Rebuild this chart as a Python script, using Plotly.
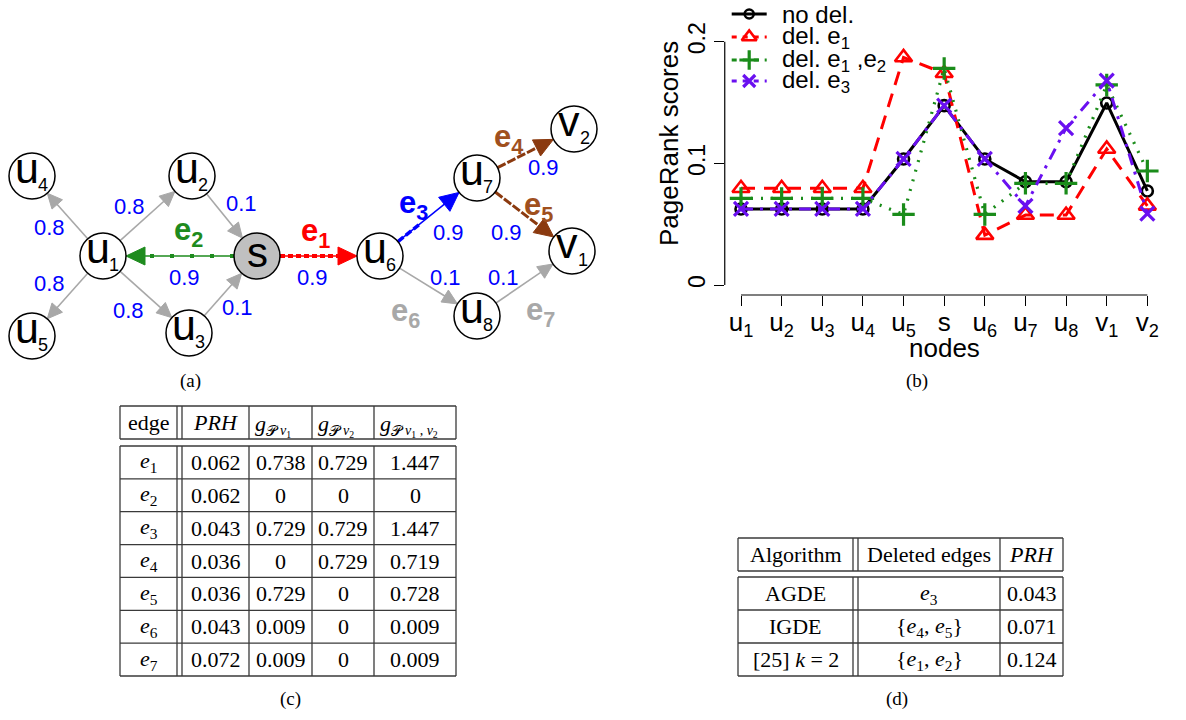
import numpy as np
import plotly.graph_objects as go

# ---------------- data: PageRank chart (b) ----------------
node_names = ["u1", "u2", "u3", "u4", "u5", "s", "u6", "u7", "u8", "v1", "v2"]
node_ticks = ["u<sub>1</sub>", "u<sub>2</sub>", "u<sub>3</sub>", "u<sub>4</sub>", "u<sub>5</sub>", "s",
              "u<sub>6</sub>", "u<sub>7</sub>", "u<sub>8</sub>", "v<sub>1</sub>", "v<sub>2</sub>"]
pr_no_del = [0.0625, 0.0625, 0.0625, 0.0625, 0.1036, 0.1474, 0.1036, 0.0849, 0.0849, 0.1496, 0.0773]
pr_del_e1 = [0.0795, 0.0795, 0.0795, 0.0795, 0.187, 0.174, 0.041, 0.0575, 0.0575, 0.1118, 0.065]
pr_del_e1e2 = [0.0712, 0.0712, 0.0712, 0.0712, 0.058, 0.178, 0.058, 0.0836, 0.0836, 0.1644, 0.0937]
pr_del_e3 = [0.0625, 0.0625, 0.0625, 0.0625, 0.1036, 0.1474, 0.1036, 0.065, 0.129, 0.168, 0.0586]
series_names = ["no del.", "del. e<sub>1</sub>", "del. e<sub>1</sub> ,e<sub>2</sub>", "del. e<sub>3</sub>"]
y_ticks = [0, 0.1, 0.2]
y_tick_text = ["0", "0.1", "0.2"]

# ---------------- data: graph (a) ----------------
edge_src = ["u1", "u1", "u1", "u1", "u2", "u3", "s", "s", "u6", "u7", "u7", "u6", "u8"]
edge_dst = ["u4", "u2", "u5", "u3", "s", "s", "u1", "u6", "u7", "v2", "v1", "u8", "v1"]
edge_weight = ["0.8", "0.8", "0.8", "0.8", "0.1", "0.1", "0.9", "0.9", "0.9", "0.9", "0.9", "0.1", "0.1"]
edge_name = ["", "", "", "", "", "", "e2", "e1", "e3", "e4", "e5", "e6", "e7"]

# ---------------- data: table (c) ----------------
tc_header = ["edge", "<i>PRH</i>", "<i>g</i><sub>𝒫</sub>", "<i>g</i><sub>𝒫</sub>", "<i>g</i><sub>𝒫</sub>"]
tc_header_sub = ["", "", "<i>v</i><sub>1</sub>", "<i>v</i><sub>2</sub>", "<i>v</i><sub>1</sub><i> , v</i><sub>2</sub>"]
tc_edge = ["<i>e</i><sub>%d</sub>" % i for i in range(1, 8)]
tc_prh = ["0.062", "0.062", "0.043", "0.036", "0.036", "0.043", "0.072"]
tc_g_v1 = ["0.738", "0", "0.729", "0", "0.729", "0.009", "0.009"]
tc_g_v2 = ["0.729", "0", "0.729", "0.729", "0", "0", "0"]
tc_g_v12 = ["1.447", "0", "1.447", "0.719", "0.728", "0.009", "0.009"]

# ---------------- data: table (d) ----------------
td_header = ["Algorithm", "Deleted edges", "<i>PRH</i>"]
td_alg = ["AGDE", "IGDE", "[25] <i>k</i> = 2"]
td_deleted = ["<i>e</i><sub>3</sub>", "{<i>e</i><sub>4</sub>, <i>e</i><sub>5</sub>}",
              "{<i>e</i><sub>1</sub>, <i>e</i><sub>2</sub>}"]
td_prh = ["0.043", "0.071", "0.124"]

# ---------------- layout constants (pixels) ----------------
W, H = 1186, 720
SANS = "Liberation Sans"
SERIF = "Liberation Serif"
node_pos = {"u4": (32, 176), "u1": (103, 256), "u2": (192, 176), "s": (257, 256), "u5": (32, 336),
            "u3": (189, 333), "u6": (380, 256), "u7": (477, 178), "v2": (574, 129), "v1": (572, 251),
            "u8": (477, 316)}
R_NODE = 23
weight_pos = [(49, 227), (129, 206), (49, 283), (128, 310), (241, 203), (237, 307), (184, 277),
              (312, 277), (448, 232), (543, 167), (506, 232), (445, 277), (503, 277)]
name_pos = {"e2": (188, 232), "e1": (315, 233), "e3": (413, 205), "e4": (508, 139), "e5": (538, 207),
            "e6": (405, 313), "e7": (540, 312)}
edge_style = {
    "": dict(color="#A8A8A8", width=1.6, dash=None, over=None, head=(15, 7), text="#A8A8A8"),
    "e1": dict(color="#FF0000", width=1.5, dash="5px,3px", over=4, head=(19, 9), text="#FF0000"),
    "e2": dict(color="#1E8B1E", width=1.5, dash="4px,16px", over=4, head=(19, 9), text="#1E8B1E"),
    "e3": dict(color="#0000FF", width=1.5, dash="7px,3px", over=3.5, head=(19, 9), text="#0000FF"),
    "e4": dict(color="#8B3A0F", width=3, dash="9px,2px", over=None, head=(19, 9), text="#A0501E"),
    "e5": dict(color="#8B3A0F", width=3, dash="9px,2px", over=None, head=(19, 9), text="#A0501E"),
    "e6": dict(color="#A8A8A8", width=1.6, dash=None, over=None, head=(15, 7), text="#A8A8A8"),
    "e7": dict(color="#A8A8A8", width=1.6, dash=None, over=None, head=(15, 7), text="#A8A8A8"),
}

# chart geometry: value 0 at 285 px, 0.1 per 121.67 px
Y0_PX, PX_PER = 285.0, 1216.7
Y_RANGE = [-0.00822, 0.2035]
y_dom = [1 - (Y0_PX - Y_RANGE[0] * PX_PER) / H, 1 - (Y0_PX - Y_RANGE[1] * PX_PER) / H]

fig = go.Figure()
shapes = []
annotations = []

# ---------------- chart (b) ----------------
chart_styles = [
    dict(color="black", dash="solid", symbol="circle-open", size=11, mlw=2.6, lw=3),
    dict(color="#FF0000", dash="14px,9px", symbol="triangle-up-open", size=15, mlw=2.6, lw=3),
    dict(color="#1A8C1A", dash="2px,8px", symbol="cross-thin", size=16, mlw=3.2, lw=3.2),
    dict(color="#6A10F0", dash="12px,7px,3px,7px", symbol="x-thin", size=14, mlw=3.2, lw=3),
]
series = [pr_no_del, pr_del_e1, pr_del_e1e2, pr_del_e3]
for vals, st, nm in zip(series, chart_styles, series_names):
    fig.add_trace(go.Scatter(
        x=node_ticks, y=vals, mode="lines+markers", name=nm, showlegend=False,
        line=dict(color=st["color"], width=st["lw"], dash=st["dash"]),
        marker=dict(symbol=st["symbol"], size=st["size"], color=st["color"],
                    line=dict(color=st["color"], width=st["mlw"])),
        xaxis="x", yaxis="y", cliponaxis=False))

# axis lines (R style, from first to last tick)
shapes.append(dict(type="line", xref="paper", yref="y", x0=724.75 / W, x1=724.75 / W, y0=0, y1=0.2,
                   line=dict(color="black", width=1.2)))
shapes.append(dict(type="line", xref="x", yref="paper", x0=0, x1=10, y0=y_dom[0], y1=y_dom[0],
                   line=dict(color="black", width=1.2)))

annotations.append(dict(text="PageRank scores", xref="x2", yref="y2", x=669, y=144, textangle=-90,
                        showarrow=False, font=dict(family=SANS, size=26, color="black")))
annotations.append(dict(text="nodes", xref="x2", yref="y2", x=944, y=348, showarrow=False,
                        font=dict(family=SANS, size=26, color="black")))

# legend
leg_y = [14, 37, 60, 81]
for st, nm, ly in zip(chart_styles, series_names, leg_y):
    fig.add_trace(go.Scatter(
        x=[731.7, 766.7], y=[ly, ly], mode="lines", showlegend=False, hoverinfo="skip",
        line=dict(color=st["color"], width=st["lw"], dash="solid" if st["dash"] == "solid" else "5px,6px"),
        xaxis="x2", yaxis="y2"))
    fig.add_trace(go.Scatter(
        x=[749.2], y=[ly], mode="markers", showlegend=False, hoverinfo="skip",
        marker=dict(symbol=st["symbol"], size=st["size"] - 2, color=st["color"],
                    line=dict(color=st["color"], width=st["mlw"])),
        xaxis="x2", yaxis="y2"))
    annotations.append(dict(text=nm, xref="x2", yref="y2", x=780, y=ly, xanchor="left",
                            showarrow=False, font=dict(family=SANS, size=24, color="black")))

# ---------------- graph (a) ----------------
for s, d, wgt, nm, wp in zip(edge_src, edge_dst, edge_weight, edge_name, weight_pos):
    st = edge_style[nm]
    p0 = np.array(node_pos[s], float)
    p1 = np.array(node_pos[d], float)
    u = (p1 - p0) / np.linalg.norm(p1 - p0)
    nrm = np.array([-u[1], u[0]])
    a = p0 + R_NODE * u
    tip = p1 - R_NODE * u
    L, hw = st["head"]
    base = tip - L * u
    shapes.append(dict(type="line", xref="x2", yref="y2", x0=a[0], y0=a[1], x1=base[0] + u[0],
                       y1=base[1] + u[1], line=dict(color=st["color"], width=st["width"],
                                                    dash=st["dash"] if st["over"] is None and st["dash"] else "solid")))
    if st["over"] is not None:
        endp = base if nm != "e3" else a + 0.45 * (base - a)
        shapes.append(dict(type="line", xref="x2", yref="y2", x0=a[0], y0=a[1], x1=endp[0], y1=endp[1],
                           line=dict(color=st["color"], width=st["over"], dash=st["dash"])))
    c1 = base + hw * nrm
    c2 = base - hw * nrm
    shapes.append(dict(type="path", xref="x2", yref="y2",
                       path="M %.2f %.2f L %.2f %.2f L %.2f %.2f Z" % (tip[0], tip[1], c1[0], c1[1], c2[0], c2[1]),
                       fillcolor=st["color"], line=dict(color=st["color"], width=1)))
    annotations.append(dict(text=wgt, xref="x2", yref="y2", x=wp[0], y=wp[1], showarrow=False,
                            font=dict(family=SANS, size=22, color="#0000FF")))
    if nm:
        npos = name_pos[nm]
        annotations.append(dict(text="<b>e<sub>%s</sub></b>" % nm[1:], xref="x2", yref="y2",
                                x=npos[0], y=npos[1], showarrow=False,
                                font=dict(family=SANS, size=31, color=st["text"])))

for nm, (cx, cy) in node_pos.items():
    shapes.append(dict(type="circle", xref="x2", yref="y2", x0=cx - R_NODE, x1=cx + R_NODE,
                       y0=cy - R_NODE, y1=cy + R_NODE, fillcolor="#C0C0C0" if nm == "s" else "white",
                       line=dict(color="black", width=1.5)))
    if nm == "s":
        annotations.append(dict(text="s", xref="x2", yref="y2", x=cx, y=cy - 4, showarrow=False,
                                font=dict(family=SANS, size=42, color="black")))
    else:
        annotations.append(dict(text=nm[0], xref="x2", yref="y2", x=cx - 5, y=cy - 8, showarrow=False,
                                font=dict(family=SANS, size=43, color="black")))
        annotations.append(dict(text=nm[1], xref="x2", yref="y2", x=cx + 10.5, y=cy + 9, showarrow=False,
                                font=dict(family=SANS, size=18, color="black")))

# ---------------- table (c) ----------------
LC = dict(color="#3A3A3A", width=1.3)
tc_cols = [120, 177, 182, 249, 312, 374, 456]
tc_htop, tc_hbot, tc_btop, tc_bbot = 406, 439, 446, 676
n_rows = len(tc_edge)
rh = (tc_bbot - tc_btop) / n_rows
for y in [tc_htop, tc_hbot]:
    shapes.append(dict(type="line", xref="x2", yref="y2", x0=tc_cols[0], x1=tc_cols[-1], y0=y, y1=y, line=LC))
for i in range(n_rows + 1):
    y = tc_btop + i * rh
    shapes.append(dict(type="line", xref="x2", yref="y2", x0=tc_cols[0], x1=tc_cols[-1], y0=y, y1=y, line=LC))
for x in tc_cols:
    for (y0, y1) in [(tc_htop, tc_hbot), (tc_btop, tc_bbot)]:
        shapes.append(dict(type="line", xref="x2", yref="y2", x0=x, x1=x, y0=y0, y1=y1, line=LC))
col_centers = [(tc_cols[0] + tc_cols[1]) / 2] + [(tc_cols[i] + tc_cols[i + 1]) / 2 for i in range(2, 6)]
hy = (tc_htop + tc_hbot) / 2
for k, (cx, txt, sub) in enumerate(zip(col_centers, tc_header, tc_header_sub)):
    if sub:
        annotations.append(dict(text=txt, xref="x2", yref="y2", x=tc_cols[k + 1] + 4, y=hy + 2,
                                xanchor="left", showarrow=False, font=dict(family=SERIF, size=22, color="black")))
        annotations.append(dict(text=sub, xref="x2", yref="y2", x=tc_cols[k + 1] + 29, y=hy + 9,
                                xanchor="left", showarrow=False, font=dict(family=SERIF, size=14, color="black")))
    else:
        annotations.append(dict(text=txt, xref="x2", yref="y2", x=cx, y=hy, showarrow=False,
                                font=dict(family=SERIF, size=22, color="black")))
for i, row in enumerate(zip(tc_edge, tc_prh, tc_g_v1, tc_g_v2, tc_g_v12)):
    cy = tc_btop + (i + 0.5) * rh
    for cx, txt in zip(col_centers, row):
        annotations.append(dict(text=txt, xref="x2", yref="y2", x=cx, y=cy, showarrow=False,
                                font=dict(family=SERIF, size=22, color="black")))

# ---------------- table (d) ----------------
td_cols = [738, 853, 858, 1000, 1063]
td_htop, td_hbot, td_btop, td_bbot = 538, 571, 577, 676
nd = len(td_alg)
rhd = (td_bbot - td_btop) / nd
for y in [td_htop, td_hbot]:
    shapes.append(dict(type="line", xref="x2", yref="y2", x0=td_cols[0], x1=td_cols[-1], y0=y, y1=y, line=LC))
for i in range(nd + 1):
    y = td_btop + i * rhd
    shapes.append(dict(type="line", xref="x2", yref="y2", x0=td_cols[0], x1=td_cols[-1], y0=y, y1=y, line=LC))
for x in td_cols:
    for (y0, y1) in [(td_htop, td_hbot), (td_btop, td_bbot)]:
        shapes.append(dict(type="line", xref="x2", yref="y2", x0=x, x1=x, y0=y0, y1=y1, line=LC))
td_centers = [(td_cols[0] + td_cols[1]) / 2, (td_cols[2] + td_cols[3]) / 2, (td_cols[3] + td_cols[4]) / 2]
for cx, txt in zip(td_centers, td_header):
    annotations.append(dict(text=txt, xref="x2", yref="y2", x=cx, y=(td_htop + td_hbot) / 2, showarrow=False,
                            font=dict(family=SERIF, size=22, color="black")))
for i, row in enumerate(zip(td_alg, td_deleted, td_prh)):
    cy = td_btop + (i + 0.5) * rhd
    for cx, txt in zip(td_centers, row):
        annotations.append(dict(text=txt, xref="x2", yref="y2", x=cx, y=cy, showarrow=False,
                                font=dict(family=SERIF, size=22, color="black")))

# ---------------- captions ----------------
for txt, (cx, cy) in zip(["(a)", "(b)", "(c)", "(d)"], [(190, 381), (917, 381), (290, 699), (897, 699)]):
    annotations.append(dict(text=txt, xref="x2", yref="y2", x=cx, y=cy, showarrow=False,
                            font=dict(family=SERIF, size=19, color="black")))

fig.update_layout(
    template="none",
    width=W, height=H, autosize=False, margin=dict(l=0, r=0, t=0, b=0, pad=0),
    paper_bgcolor="white", plot_bgcolor="rgba(0,0,0,0)", showlegend=False,
    font=dict(family=SANS, color="black"),
    xaxis=dict(domain=[724.75 / W, 1163.6 / W], range=[-0.4, 10.4], type="category",
               showgrid=False, zeroline=False, showline=False, ticks="outside", ticklen=10,
               tickwidth=1.2, tickcolor="black", tickfont=dict(family=SANS, size=26, color="black"),
               ticklabelstandoff=-6, anchor="y", fixedrange=True, automargin=False),
    yaxis=dict(domain=y_dom, range=Y_RANGE, tickvals=y_ticks,
               ticktext=y_tick_text, tickangle=-90, showgrid=False, zeroline=False, showline=False,
               ticks="outside", ticklen=10, tickwidth=1.2, tickcolor="black",
               tickfont=dict(family=SANS, size=23, color="black"), anchor="x", fixedrange=True,
               automargin=False),
    xaxis2=dict(domain=[0, 1], range=[0, W], visible=False, anchor="y2", fixedrange=True, automargin=False),
    yaxis2=dict(domain=[0, 1], range=[H, 0], visible=False, anchor="x2", fixedrange=True, automargin=False),
    shapes=shapes, annotations=annotations,
)

fig.write_html("out.html")
